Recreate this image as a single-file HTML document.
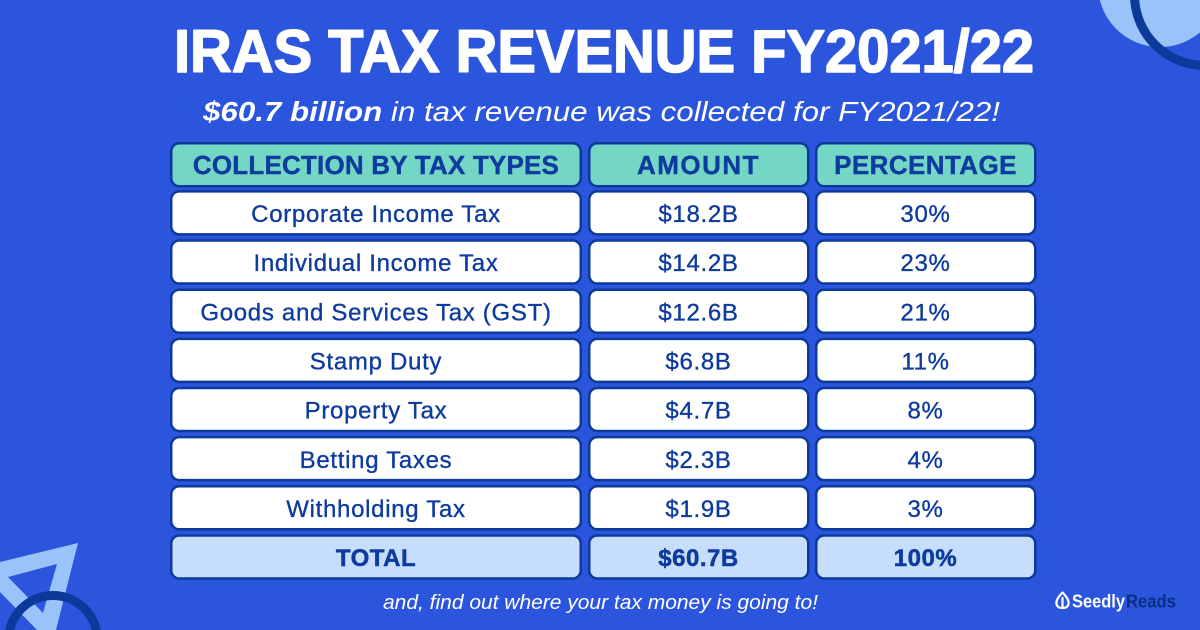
<!DOCTYPE html>
<html>
<head>
<meta charset="utf-8">
<style>
  html,body{margin:0;padding:0;background:#2a55dc;width:1200px;height:630px;overflow:hidden;}
  svg{display:block;position:absolute;left:0;top:0;}
  text{font-family:"Liberation Sans",Arial,sans-serif;}
</style>
</head>
<body>
<svg width="1200" height="630" viewBox="0 0 1200 630" xmlns="http://www.w3.org/2000/svg">
  <rect width="1200" height="630" fill="#2a55dc"/>

  <!-- top-right decoration (pre-clipped to frame) -->
  <path d="M1099.84,0 A62,62 0 0 0 1200,32.37 L1200,0 Z" fill="#9ac3fa"/>
  <path d="M1130.17,0 A75,75 0 0 0 1200,69.83 L1200,60.81 A66,66 0 0 1 1139.19,0 Z" fill="#0b3a9b"/>

  <!-- bottom-left decoration (pre-clipped to frame) -->
  <path d="M78,543 L0,562 L0,592 L37,630 L56,630 Z M57,564 L8,577 L43,613 Z" fill="#9ac3fa" fill-rule="evenodd"/>
  <path d="M5.03,630 A49,49 0 0 1 100.97,630 L91.73,630 A40,40 0 0 0 14.27,630 Z" fill="#0b3a9b"/>

  <!-- Title -->
  <text x="174" y="72" font-size="60" font-weight="bold" fill="#ffffff" stroke="#ffffff" stroke-width="1.6" stroke-linejoin="round" textLength="860" lengthAdjust="spacingAndGlyphs">IRAS TAX REVENUE FY2021/22</text>
  <text x="203" y="121" font-size="28" font-style="italic" fill="#ffffff" textLength="797" lengthAdjust="spacingAndGlyphs"><tspan font-weight="bold">$60.7 billion</tspan> in tax revenue was collected for FY2021/22!</text>

  <g stroke="#0b3a9b" stroke-width="2.5">
    <!-- header -->
    <rect x="171.25" y="143.25" width="409.5" height="43" rx="8" fill="#74d6c5"/>
    <rect x="589.25" y="143.25" width="219" height="43" rx="8" fill="#74d6c5"/>
    <rect x="816.25" y="143.25" width="219" height="43" rx="8" fill="#74d6c5"/>
    <!-- rows -->
    <g fill="#ffffff">
      <rect x="171.25" y="191.4" width="409.5" height="43" rx="8"/>
      <rect x="589.25" y="191.4" width="219" height="43" rx="8"/>
      <rect x="816.25" y="191.4" width="219" height="43" rx="8"/>
      <rect x="171.25" y="240.55" width="409.5" height="43" rx="8"/>
      <rect x="589.25" y="240.55" width="219" height="43" rx="8"/>
      <rect x="816.25" y="240.55" width="219" height="43" rx="8"/>
      <rect x="171.25" y="289.7" width="409.5" height="43" rx="8"/>
      <rect x="589.25" y="289.7" width="219" height="43" rx="8"/>
      <rect x="816.25" y="289.7" width="219" height="43" rx="8"/>
      <rect x="171.25" y="338.85" width="409.5" height="43" rx="8"/>
      <rect x="589.25" y="338.85" width="219" height="43" rx="8"/>
      <rect x="816.25" y="338.85" width="219" height="43" rx="8"/>
      <rect x="171.25" y="388" width="409.5" height="43" rx="8"/>
      <rect x="589.25" y="388" width="219" height="43" rx="8"/>
      <rect x="816.25" y="388" width="219" height="43" rx="8"/>
      <rect x="171.25" y="437.15" width="409.5" height="43" rx="8"/>
      <rect x="589.25" y="437.15" width="219" height="43" rx="8"/>
      <rect x="816.25" y="437.15" width="219" height="43" rx="8"/>
      <rect x="171.25" y="486.3" width="409.5" height="43" rx="8"/>
      <rect x="589.25" y="486.3" width="219" height="43" rx="8"/>
      <rect x="816.25" y="486.3" width="219" height="43" rx="8"/>
    </g>
    <!-- total -->
    <g fill="#c6defb">
      <rect x="171.25" y="535.45" width="409.5" height="43" rx="8"/>
      <rect x="589.25" y="535.45" width="219" height="43" rx="8"/>
      <rect x="816.25" y="535.45" width="219" height="43" rx="8"/>
    </g>
  </g>

  <g fill="#0d3b9e" text-anchor="middle">
    <g font-size="26" font-weight="bold" letter-spacing="0.2" stroke="#0d3b9e" stroke-width="0.4">
      <text x="376" y="174">COLLECTION BY TAX TYPES</text>
      <text x="698.5" y="174" letter-spacing="1.5">AMOUNT</text>
      <text x="925.5" y="174" letter-spacing="0.4">PERCENTAGE</text>
    </g>
    <g font-size="24" letter-spacing="0.7" stroke="#0d3b9e" stroke-width="0.35">
      <text x="376" y="222">Corporate Income Tax</text>
      <text x="698.5" y="222">$18.2B</text>
      <text x="925.5" y="222">30%</text>

      <text x="376" y="271.2">Individual Income Tax</text>
      <text x="698.5" y="271.2">$14.2B</text>
      <text x="925.5" y="271.2">23%</text>

      <text x="376" y="320.3">Goods and Services Tax (GST)</text>
      <text x="698.5" y="320.3">$12.6B</text>
      <text x="925.5" y="320.3">21%</text>

      <text x="376" y="369.5">Stamp Duty</text>
      <text x="698.5" y="369.5">$6.8B</text>
      <text x="925.5" y="369.5">11%</text>

      <text x="376" y="418.6">Property Tax</text>
      <text x="698.5" y="418.6">$4.7B</text>
      <text x="925.5" y="418.6">8%</text>

      <text x="376" y="467.8">Betting Taxes</text>
      <text x="698.5" y="467.8">$2.3B</text>
      <text x="925.5" y="467.8">4%</text>

      <text x="376" y="516.9">Withholding Tax</text>
      <text x="698.5" y="516.9">$1.9B</text>
      <text x="925.5" y="516.9">3%</text>
    </g>
    <g font-size="24" font-weight="bold" letter-spacing="0.5" stroke="#0d3b9e" stroke-width="0.5">
      <text x="376" y="566">TOTAL</text>
      <text x="698.5" y="566">$60.7B</text>
      <text x="925.5" y="566">100%</text>
    </g>
  </g>

  <!-- footer -->
  <text x="383" y="609" font-size="20" font-style="italic" fill="#ffffff" textLength="435" lengthAdjust="spacingAndGlyphs">and, find out where your tax money is going to!</text>

  <!-- logo -->
  <g fill="none" stroke="#ffffff" stroke-width="2.2" stroke-linejoin="round" stroke-linecap="round">
    <path d="M1062.5,592.5 C1057,598 1056,602 1056.5,604 C1057,607 1059.5,608 1062.5,608 C1065.5,608 1068,607 1068.5,604 C1069,602 1068,598 1062.5,592.5 Z"/>
    <line x1="1062.5" y1="598" x2="1062.5" y2="608"/>
  </g>
  <text x="1072" y="607.5" font-size="18" font-weight="bold" fill="#ffffff" textLength="53" lengthAdjust="spacingAndGlyphs">Seedly</text>
  <text x="1126" y="607.5" font-size="18" font-weight="bold" fill="#0b2f86" textLength="50" lengthAdjust="spacingAndGlyphs">Reads</text>
</svg>
</body>
</html>
